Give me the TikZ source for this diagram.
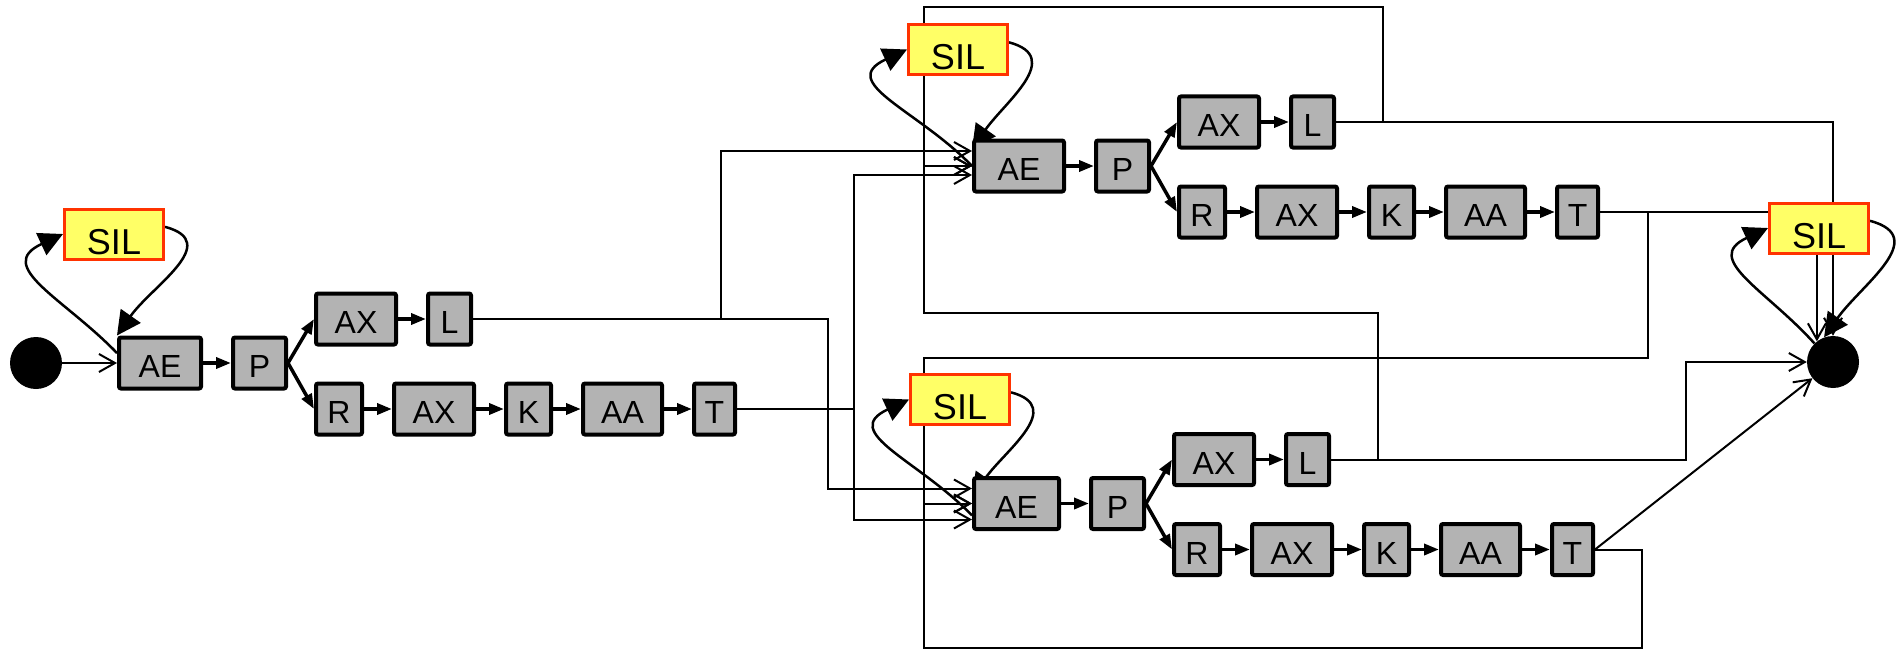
\documentclass[tikz,border=0pt]{standalone}
\usepackage{fontspec}
\setmainfont{Liberation Sans}
\usetikzlibrary{positioning,arrows.meta,backgrounds}

\definecolor{phonefill}{HTML}{B3B3B3}
\definecolor{silfill}{HTML}{FFFF66}
\definecolor{silline}{HTML}{FF3300}

\begin{document}
\begin{tikzpicture}[
    x=1pt, y=-1pt,
    node distance=28pt,
    phone/.style={draw, line width=4pt, fill=phonefill, rounded corners=2pt,
                  minimum width=#1, minimum height=51pt, inner sep=0pt,
                  font=\fontsize{32pt}{32pt}\selectfont, text height=29pt, text depth=0pt},
    phone/.default=50pt,
    sil/.style={draw=silline, line width=3pt, fill=silfill, minimum width=99pt,
                minimum height=50pt, inner sep=0pt,
                font=\fontsize{36pt}{36pt}\selectfont, text height=40pt, text depth=0pt},
    term/.style={circle, fill=black, minimum size=52pt, inner sep=0pt},
    link/.style={-{Triangle[length=15pt,width=11pt]}, line width=3.5pt},
    route/.style={-{Straight Barb[length=16pt,width=18pt]}, line width=2pt},
    silarc/.style={-{Triangle[length=24pt,width=24pt]}, line width=2.5pt},
  ]
  \useasboundingbox (0,0) rectangle (1902,650);

  \node[term] (start) at (36,363) {};
  \node[phone=82pt] (ae1) at (160,363) {AE};
  \node[phone=53pt, right=of ae1] (p1) {P};
  \node[phone=80pt, right=26pt of p1, yshift=44pt] (ax1) {AX};
  \node[phone=43pt, right=of ax1] (l1) {L};
  \node[phone=46pt, right=26pt of p1, yshift=-46pt] (r1) {R};
  \node[phone=80pt, right=of r1] (axb1) {AX};
  \node[phone=45pt, right=of axb1] (k1) {K};
  \node[phone=79pt, right=of k1] (aa1) {AA};
  \node[phone=41pt, right=of aa1] (t1) {T};
  \node[sil] (sil1) at (114,234) {SIL};

  \node[phone=90pt] (ae2) at (1019,166) {AE};
  \node[phone=53pt, right=of ae2] (p2) {P};
  \node[phone=80pt, right=26pt of p2, yshift=44pt] (ax2) {AX};
  \node[phone=43pt, right=of ax2] (l2) {L};
  \node[phone=46pt, right=26pt of p2, yshift=-46pt] (r2) {R};
  \node[phone=80pt, right=of r2] (axb2) {AX};
  \node[phone=45pt, right=of axb2] (k2) {K};
  \node[phone=79pt, right=of k2] (aa2) {AA};
  \node[phone=41pt, right=of aa2] (t2) {T};
  \node[sil] (sil2) at (958,49.5) {SIL};

  \node[phone=85pt] (ae3) at (1016.5,503.5) {AE};
  \node[phone=53pt, right=of ae3] (p3) {P};
  \node[phone=80pt, right=26pt of p3, yshift=44pt] (ax3) {AX};
  \node[phone=43pt, right=of ax3] (l3) {L};
  \node[phone=46pt, right=26pt of p3, yshift=-46pt] (r3) {R};
  \node[phone=80pt, right=of r3] (axb3) {AX};
  \node[phone=45pt, right=of axb3] (k3) {K};
  \node[phone=79pt, right=of k3] (aa3) {AA};
  \node[phone=41pt, right=of aa3] (t3) {T};
  \node[sil] (sil3) at (960,399.5) {SIL};

  \node[term] (endn) at (1833,362) {};
  \node[sil] (sil4) at (1819,228) {SIL};

  \begin{scope}[on background layer]
    \fill[white] (0,0) rectangle (1902,650);

    \draw[route] (start) -- (ae1);
    \draw[silarc] (ae1.167) to[out=134, in=205, looseness=1.5] (sil1.west);
    \draw[silarc] (sil1.8) to[out=-15, in=55, looseness=1.3] (ae1.north west);
    \draw[link] (ae1) -- (p1);
    \draw[link] (p1.east) -- (ax1.west);
    \draw[link] (p1.east) -- (r1.west);
    \draw[link] (ax1) -- (l1);
    \draw[link] (r1) -- (axb1);
    \draw[link] (axb1) -- (k1);
    \draw[link] (k1) -- (aa1);
    \draw[link] (aa1) -- (t1);

    \draw[silarc] (ae2.west) to[out=134, in=205, looseness=1.5] (sil2.west);
    \draw[silarc] (sil2.8) to[out=-15, in=55, looseness=1.3] (ae2.160);
    \draw[link] (ae2) -- (p2);
    \draw[link] (p2.east) -- (ax2.west);
    \draw[link] (p2.east) -- (r2.west);
    \draw[link] (ax2) -- (l2);
    \draw[link] (r2) -- (axb2);
    \draw[link] (axb2) -- (k2);
    \draw[link] (k2) -- (aa2);
    \draw[link] (aa2) -- (t2);

    \draw[silarc] (ae3.195) to[out=134, in=205, looseness=1.5] (sil3.west);
    \draw[silarc] (sil3.8) to[out=-15, in=55, looseness=1.3] (ae3.172);
    \draw[link] (ae3) -- (p3);
    \draw[link] (p3.east) -- (ax3.west);
    \draw[link] (p3.east) -- (r3.west);
    \draw[link] (ax3) -- (l3);
    \draw[link] (r3) -- (axb3);
    \draw[link] (axb3) -- (k3);
    \draw[link] (k3) -- (aa3);
    \draw[link] (aa3) -- (t3);

    \draw[silarc] (endn.135) to[out=132, in=205, looseness=1.5] (sil4.west);
    \draw[silarc] (sil4.8) to[out=-15, in=55, looseness=1.3] (endn.110);

    \draw[route] (l1.east) -- ++(248,0) coordinate (jl1) |- ([yshift=15pt]ae2.west);
    \draw[route] (jl1) -- ++(107,0) |- ([yshift=15pt]ae3.west);
    \draw[route] (t1.east) -- ++(117,0) coordinate (jt1) |- ([yshift=-9pt]ae2.west);
    \draw[route] (jt1) |- ([yshift=-16pt]ae3.west);

    \draw[route] (l2.east) -- ++(47,0) coordinate (jl2) -- ++(0,-115) -| ([xshift=-48pt]ae2.west) -- (ae2.west);
    \draw[route] (jl2) -| (endn.north);
    \draw[route] (t2.east) -| (endn.128);
    \draw[route] (t2.east) -- ++(48,0) -- ++(0,146) -| ([xshift=-48pt]ae3.west) -- (ae3.west);

    \draw[route] (l3.east) -- ++(47,0) coordinate (jl3) -- ++(0,-146.5) -| ([xshift=-48pt]ae2.west) -- (ae2.west);
    \draw[route] (jl3) -- ++(308,0) |- (endn.west);
    \draw[route] (t3.east) -- (endn);
    \draw[route] (t3.east) -- ++(47,0) -- ++(0,98.5) -| ([xshift=-48pt]ae3.west) -- (ae3.west);
  \end{scope}
\end{tikzpicture}
\end{document}
